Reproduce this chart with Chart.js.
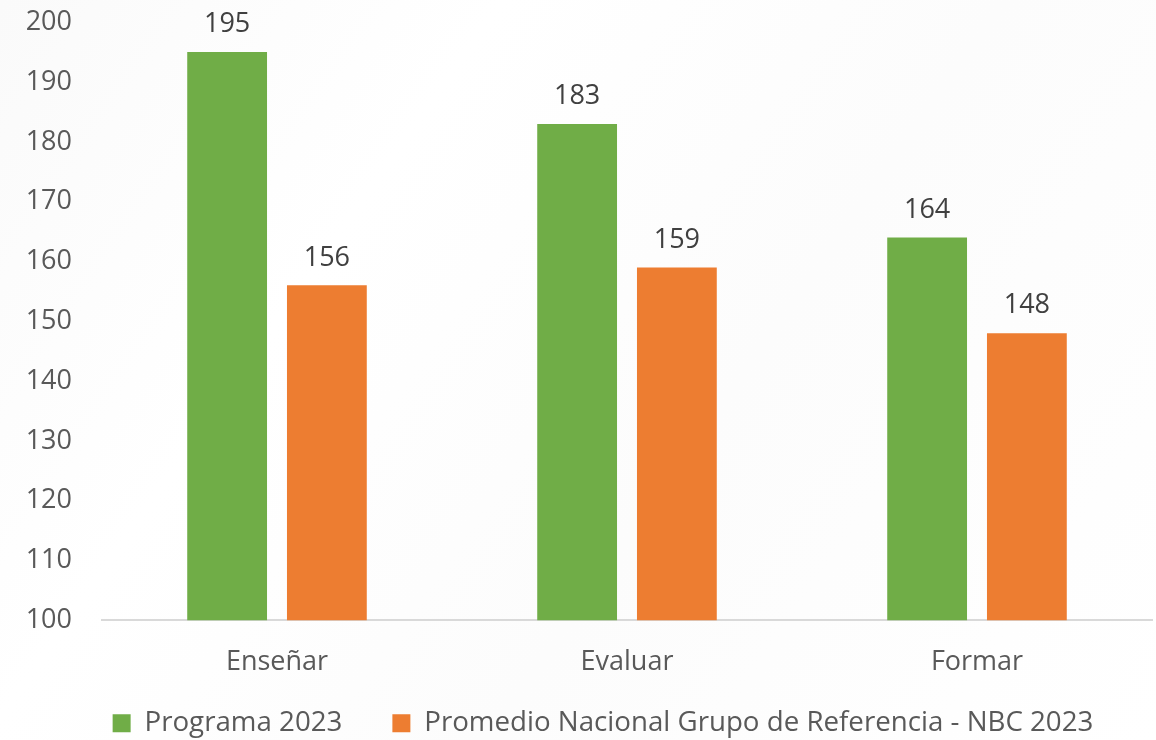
<!DOCTYPE html>
<html>
<head>
<meta charset="utf-8">
<script src="https://cdn.jsdelivr.net/npm/chart.js@4"></script>
<style>
  html, body { margin: 0; padding: 0; background: #ffffff; }
  #wrap { width: 1156px; height: 740px; position: relative; overflow: hidden;
    background: linear-gradient(125deg, #fafafa 0%, #ffffff 30%, #fcfcfc 60%, #ffffff 100%); }
  #chart { position: absolute; left: 0; top: -24px; }
</style>
</head>
<body>
<div id="wrap"><canvas id="chart" width="1156" height="807"></canvas></div>
<script>
const categories = ['Enseñar', 'Evaluar', 'Formar'];
const programa = [195, 183, 164];
const promedio = [156, 159, 148];
const yTicks = { min: 100, max: 200, step: 10 };

// Draw the value above each bar
const valueLabels = {
  id: 'valueLabels',
  afterDatasetsDraw(chart) {
    const ctx = chart.ctx;
    ctx.save();
    ctx.font = '27px "Open Sans"';
    ctx.fillStyle = '#404040';
    ctx.textAlign = 'center';
    ctx.textBaseline = 'bottom';
    chart.data.datasets.forEach((ds, i) => {
      chart.getDatasetMeta(i).data.forEach((bar, j) => {
        ctx.fillText(ds.data[j], bar.x, bar.y - 14);
      });
    });
    ctx.restore();
  }
};

// Legend in the original sits a bit right of centre and wide-spaced but tight vertically
const legendNudge = {
  id: 'legendNudge',
  afterLayout(chart) {
    chart.legend.left += 27;
    chart.legend.right += 27;
    chart.legend.top -= 36;
    chart.legend.bottom -= 36;
  }
};

const ctx = document.getElementById('chart').getContext('2d');
new Chart(ctx, {
  type: 'bar',
  data: {
    labels: categories,
    datasets: [
      { label: 'Programa 2023', data: programa, backgroundColor: '#70AD47' },
      { label: 'Promedio Nacional Grupo de Referencia - NBC 2023', data: promedio, backgroundColor: '#ED7D31' }
    ]
  },
  options: {
    responsive: false,
    animation: false,
    layout: { padding: { left: 0, right: 4, top: 0, bottom: 0 } },
    datasets: { bar: { categoryPercentage: 0.57, barPercentage: 0.8 } },
    scales: {
      x: {
        grid: { display: false, drawTicks: false },
        border: { display: true, color: '#d9d9d9', width: 2 },
        ticks: { color: '#595959', font: { family: 'Open Sans', size: 27 }, padding: 26 },
        afterFit(scale) { scale.height = 75; }
      },
      y: {
        min: yTicks.min,
        max: yTicks.max,
        grid: { display: false, drawTicks: false },
        border: { display: false },
        ticks: { stepSize: yTicks.step, color: '#595959', font: { family: 'Open Sans', size: 27 }, padding: 30 },
        afterFit(scale) { scale.width = 102; }
      }
    },
    plugins: {
      tooltip: { enabled: false },
      legend: {
        position: 'bottom',
        labels: {
          color: '#595959',
          font: { family: 'Open Sans', size: 27.7 },
          boxWidth: 18,
          boxHeight: 18,
          padding: 50
        }
      }
    }
  },
  plugins: [valueLabels, legendNudge]
});
</script>
</body>
</html>
